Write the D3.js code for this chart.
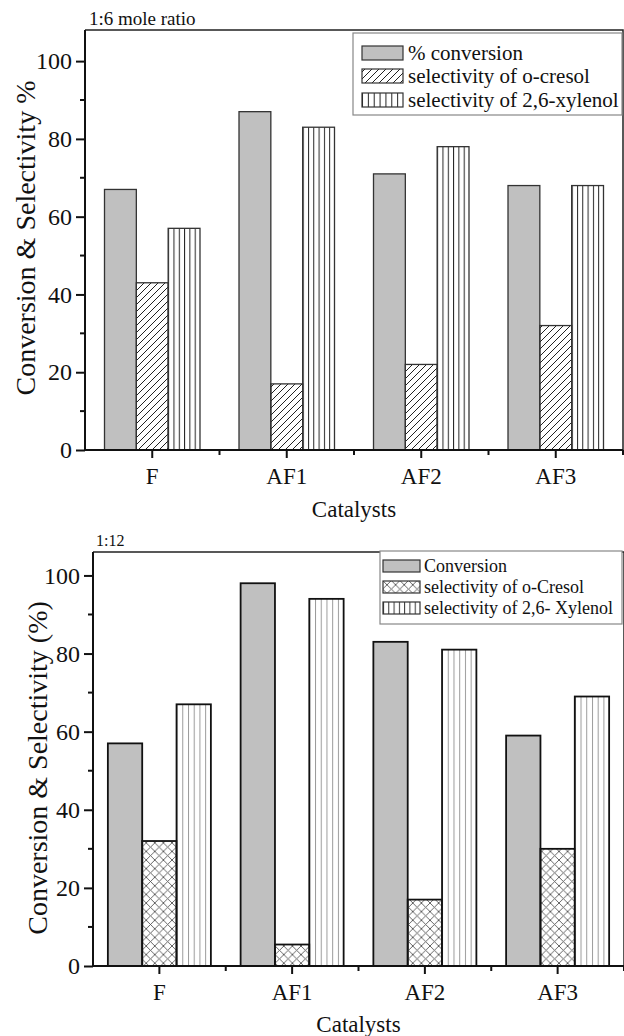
<!DOCTYPE html>
<html>
<head>
<meta charset="utf-8">
<script src="https://cdn.jsdelivr.net/npm/d3@7"></script>
<style>
  body { margin: 0; background: #fff; }
  svg { display: block; }
  svg text { font-family: "Liberation Serif", "Times New Roman", serif !important; fill: #111; }
</style>
</head>
<body>
<svg id="fig" width="624" height="1036"></svg>
<script>
// Catalysts on the x axis
const catalysts = ["F", "AF1", "AF2", "AF3"];

// Panel 1: 1:6 mole ratio
const seriesTop = ["% conversion", "selectivity of o-cresol", "selectivity of 2,6-xylenol"];
const conversionTop = [67, 87, 71, 68];
const cresolTop = [43, 17, 22, 32];
const xylenolTop = [57, 83, 78, 68];

// Panel 2: 1:12
const seriesBottom = ["Conversion", "selectivity of o-Cresol", "selectivity of 2,6- Xylenol"];
const conversionBottom = [57, 98, 83, 59];
const cresolBottom = [32, 5.5, 17, 30];
const xylenolBottom = [67, 94, 81, 69];

// Axis ticks
const yTicks = [0, 20, 40, 60, 80, 100];
const yMinorTicks = [10, 30, 50, 70, 90];

const SERIF = '"Liberation Serif", "Times New Roman", serif';
const svg = d3.select("#fig");
const defs = svg.append("defs");

// Shared fill patterns
defs.append("pattern").attr("id", "diag")
  .attr("patternUnits", "userSpaceOnUse").attr("width", 7).attr("height", 7)
  .append("path").attr("d", "M-1,1 L1,-1 M0,7 L7,0 M6,8 L8,6")
  .attr("stroke", "#222").attr("stroke-width", 1);

defs.append("pattern").attr("id", "cross")
  .attr("patternUnits", "userSpaceOnUse").attr("width", 8.6).attr("height", 8.6)
  .append("path").attr("d", "M0,0 L8.6,8.6 M8.6,0 L0,8.6")
  .attr("stroke", "#555").attr("stroke-width", 0.9);

let patId = 0;
function vlinePattern(x0, step, color) {
  const id = "vl" + (patId++);
  const p = defs.append("pattern").attr("id", id)
    .attr("patternUnits", "userSpaceOnUse")
    .attr("x", x0).attr("y", 0).attr("width", step).attr("height", 10);
  p.append("line").attr("x1", 0.5).attr("x2", 0.5).attr("y1", 0).attr("y2", 10)
    .attr("stroke", color).attr("stroke-width", 1);
  return "url(#" + id + ")";
}

function drawPanel(cfg) {
  const { left, right, top, bottom, yMax, series, values, styles } = cfg;
  const g = svg.append("g");

  const x0 = d3.scaleBand().domain(catalysts).range([left, right])
    .paddingInner(cfg.padInner).paddingOuter(cfg.padInner / 2);
  const x1 = d3.scaleBand().domain(series).range([0, x0.bandwidth()]);
  const y = d3.scaleLinear().domain([0, yMax]).range([bottom, top]);

  // frame (top and right)
  g.append("path")
    .attr("d", `M${left},${top} H${right} V${bottom}`)
    .attr("fill", "none").attr("stroke", "#222").attr("stroke-width", 1.5);

  // bars
  series.forEach((s, si) => {
    const st = styles[si];
    g.append("g").selectAll("rect").data(catalysts).join("rect")
      .attr("x", c => x0(c) + x1(s))
      .attr("y", (c, i) => y(values[si][i]))
      .attr("width", x1.bandwidth())
      .attr("height", (c, i) => y(0) - y(values[si][i]))
      .attr("fill", c => st.type === "vline"
        ? vlinePattern(x0(c) + x1(s), x1.bandwidth() / 6, st.color)
        : st.fill)
      .attr("stroke", cfg.barStroke).attr("stroke-width", cfg.barStrokeWidth);
  });

  // y axis
  const yAxis = d3.axisLeft(y).tickValues(yTicks).tickSize(9).tickPadding(4)
    .tickFormat(d3.format("d"));
  const ya = g.append("g").attr("transform", `translate(${left},0)`).call(yAxis)
    .attr("font-family", SERIF);
  ya.select(".domain").attr("stroke", "#111").attr("stroke-width", 2)
    .attr("d", `M0,${top}V${bottom}`);
  ya.selectAll(".tick line").attr("stroke", "#111").attr("stroke-width", 2);
  ya.selectAll(".tick text").attr("font-size", 24).style("font-family", SERIF).attr("fill", "#111");
  g.append("g").selectAll("line").data(yMinorTicks).join("line")
    .attr("x1", left - 5).attr("x2", left).attr("y1", d => y(d)).attr("y2", d => y(d))
    .attr("stroke", "#111").attr("stroke-width", 2);

  // x axis
  const xAxis = d3.axisBottom(x0).tickSize(8).tickPadding(10);
  const xa = g.append("g").attr("transform", `translate(0,${bottom})`).call(xAxis)
    .attr("font-family", SERIF);
  xa.select(".domain").attr("stroke", "#111").attr("stroke-width", 2)
    .attr("d", `M${left},0H${right}`);
  xa.selectAll(".tick line").attr("stroke", "#111").attr("stroke-width", 2);
  xa.selectAll(".tick text").attr("font-size", 23).style("font-family", SERIF).attr("fill", "#111");
  // minor ticks between categories
  const bounds = d3.range(1, catalysts.length + 1).map(i => left + i * x0.step());
  g.append("g").selectAll("line").data(bounds).join("line")
    .attr("x1", d => d).attr("x2", d => d).attr("y1", bottom).attr("y2", bottom + 5)
    .attr("stroke", "#111").attr("stroke-width", 2);

  // titles
  g.append("text").attr("x", (left + right) / 2).attr("y", cfg.xTitleY)
    .attr("text-anchor", "middle").attr("font-size", 23).style("font-family", SERIF).text("Catalysts");
  g.append("text")
    .attr("transform", `translate(${cfg.yTitleX},${cfg.yTitleMid}) rotate(-90)`)
    .attr("text-anchor", "middle").attr("font-size", 28).style("font-family", SERIF).text(cfg.yTitle);
  g.append("text").attr("x", cfg.tag.x).attr("y", cfg.tag.y)
    .attr("font-size", cfg.tag.size).style("font-family", SERIF).text(cfg.tag.text);

  // legend
  const L = cfg.legend;
  const lg = g.append("g");
  lg.append("rect").attr("x", L.x).attr("y", L.y).attr("width", L.w).attr("height", L.h)
    .attr("fill", "#fff").attr("stroke", "#888").attr("stroke-width", 1.2);
  series.forEach((s, si) => {
    const st = styles[si];
    const cy = L.rows[si];
    lg.append("rect").attr("x", L.sx).attr("y", cy - L.sh / 2)
      .attr("width", L.sw).attr("height", L.sh)
      .attr("fill", st.type === "vline" ? vlinePattern(L.sx, L.sw / 7, st.legendColor || st.color) : st.fill)
      .attr("stroke", "#333").attr("stroke-width", 1.2);
    lg.append("text").attr("x", L.tx).attr("y", cy).attr("dy", "0.33em")
      .attr("font-size", L.size).style("font-family", SERIF).text(s);
  });
}

drawPanel({
  left: 85, right: 623, top: 30, bottom: 450, yMax: 108,
  padInner: 0.29,
  series: seriesTop,
  values: [conversionTop, cresolTop, xylenolTop],
  styles: [
    { type: "fill", fill: "#c0c0c0" },
    { type: "fill", fill: "url(#diag)" },
    { type: "vline", color: "#222" }
  ],
  barStroke: "#333", barStrokeWidth: 1.3,
  xTitleY: 517,
  yTitle: "Conversion & Selectivity %", yTitleX: 35, yTitleMid: 238,
  tag: { text: "1:6 mole ratio", x: 89, y: 25, size: 19 },
  legend: { x: 353, y: 33, w: 269, h: 82, sx: 362, sw: 41, sh: 14, tx: 408,
            rows: [53, 76, 100], size: 21 }
});

drawPanel({
  left: 93, right: 624, top: 552, bottom: 966, yMax: 106,
  padInner: 0.224,
  series: seriesBottom,
  values: [conversionBottom, cresolBottom, xylenolBottom],
  styles: [
    { type: "fill", fill: "#c0c0c0" },
    { type: "fill", fill: "url(#cross)" },
    { type: "vline", color: "#9a9a9a", legendColor: "#333" }
  ],
  barStroke: "#111", barStrokeWidth: 1.8,
  xTitleY: 1032,
  yTitle: "Conversion & Selectivity (%)", yTitleX: 47, yTitleMid: 768,
  tag: { text: "1:12", x: 96, y: 546, size: 16 },
  legend: { x: 380, y: 551, w: 242, h: 73, sx: 383, sw: 37, sh: 12, tx: 424,
            rows: [566, 587, 608], size: 18 }
});
</script>
</body>
</html>
